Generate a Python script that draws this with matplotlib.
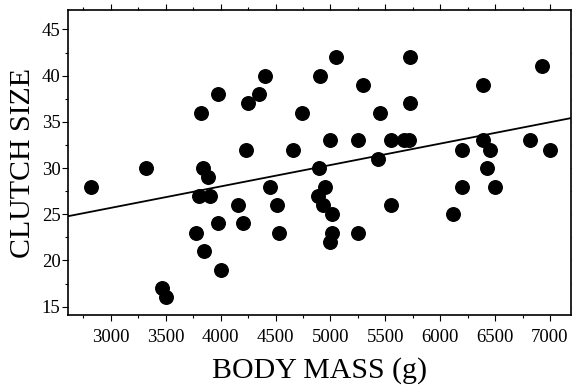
#!/usr/bin/env python
import numpy as np
import matplotlib
matplotlib.use('agg')
import matplotlib.pyplot as plt
from matplotlib.ticker import MultipleLocator

body_mass = [2820, 3320, 3835, 3825, 3980, 4250, 4350, 4400, 4235, 4660,
             4740, 4905, 4900, 5055, 5300, 5450, 4995, 5255, 5555, 5670,
             5720, 5725, 5725, 5435, 6195, 6390, 6390, 6455, 6425, 6820,
             6925, 7000, 3885, 3805, 3900, 4160, 3980, 4200, 3775, 3850,
             4000, 3470, 3500, 4445, 4510, 4535, 4885, 4930, 4950, 5010,
             5010, 4995, 5255, 5555, 6120, 6195, 6500]
clutch_size = [28, 30, 30, 36, 38, 37, 38, 40, 32, 32,
               36, 40, 30, 42, 39, 36, 33, 33, 33, 33,
               33, 42, 37, 31, 32, 39, 33, 32, 30, 33,
               41, 32, 29, 27, 27, 26, 24, 24, 23, 21,
               19, 17, 16, 28, 26, 23, 27, 26, 28, 25,
               23, 22, 23, 26, 25, 28, 28]

plt.rcParams['font.family'] = ['Liberation Serif', 'DejaVu Serif']

fig = plt.figure(figsize=(5.72, 3.86), dpi=100)
ax = fig.add_axes([0.119, 0.184, 0.879, 0.790])

ax.scatter(body_mass, clutch_size, s=95, color='black', zorder=3)

slope, intercept = np.polyfit(body_mass, clutch_size, 1)
xline = np.array([2610, 7190])
ax.plot(xline, intercept + slope * xline, color='black', lw=1.3)

ax.set_xlim(2610, 7190)
ax.set_ylim(14.1, 47.1)
ax.xaxis.set_major_locator(MultipleLocator(500))
ax.xaxis.set_minor_locator(MultipleLocator(250))
ax.yaxis.set_major_locator(MultipleLocator(5))
ax.yaxis.set_minor_locator(MultipleLocator(2.5))
ax.tick_params(which='both', direction='out', top=True, right=True,
               labelsize=13.5, width=0.8)
ax.tick_params(which='major', length=4)
ax.tick_params(which='minor', length=2)
ax.tick_params(axis='x', pad=6)
ax.tick_params(axis='y', pad=1.5)
for s in ax.spines.values():
    s.set_linewidth(1.2)

ax.set_xlabel('BODY MASS (g)', fontsize=21.5, labelpad=8)
ax.set_ylabel('CLUTCH SIZE', fontsize=21.5, labelpad=4)

plt.savefig('out.png', dpi=100)
